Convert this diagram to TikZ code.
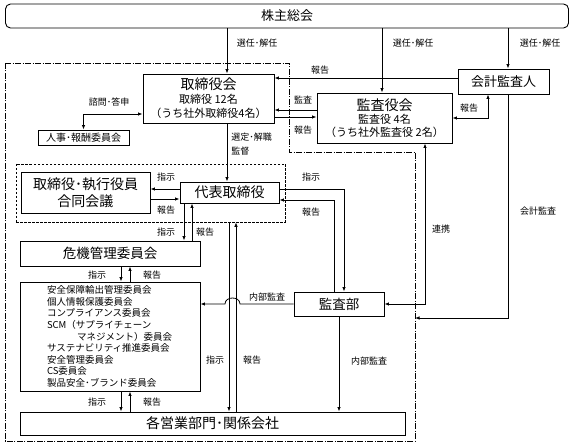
\documentclass[tikz,border=0pt]{standalone}
\usepackage{fontspec}
\setmainfont{Noto Sans CJK JP}
\usetikzlibrary{arrows.meta}

\tikzset{
  box/.style={draw, line width=0.9pt, inner sep=0pt, align=center},
  lbl/.style={font=\fontsize{9}{10}\selectfont, inner sep=0pt},
}

\begin{document}
\begin{tikzpicture}[x=1pt,y=-1pt,line width=0.8pt,>={Latex[length=4.5pt,width=3.5pt]}]
\useasboundingbox (0,0) rectangle (573,446);

% group frames
\draw[dash pattern=on 6pt off 1.5pt on 1pt off 1.5pt] (5,63) -- (289,63) -- (289,152) -- (415,152) -- (415,441) -- (5,441) -- cycle;
\node[draw, dash pattern=on 2.5pt off 1.5pt, line width=0.7pt, minimum width=269, minimum height=58] (exec) at (150.5,193) {};

% boxes
\node[box, rounded corners=5pt, minimum width=563, minimum height=24, font=\fontsize{13}{13}\selectfont] (meeting) at (287,16) {株主総会};
\node[box, minimum width=131, minimum height=49, font=\fontsize{11}{14}\selectfont] (board) at (208.5,98.5)
  {{\fontsize{14}{14}\selectfont 取締役会}\\取締役 12名\\（うち社外取締役4名）};
\node[box, minimum width=135, minimum height=50, font=\fontsize{11}{13}\selectfont] (kansayaku) at (384.5,118)
  {{\fontsize{14}{14}\selectfont 監査役会}\\監査役 4名\\（うち社外監査役 2名）};
\node[box, minimum width=91, minimum height=25, font=\fontsize{13}{13}\selectfont] (auditor) at (503.5,81.5) {会計監査人};
\node[box, minimum width=91, minimum height=15, font=\fontsize{10}{10}\selectfont] (jinji) at (83.5,137.5) {人事･報酬委員会};
\node[box, minimum width=129, minimum height=41, font=\fontsize{14}{17}\selectfont] (joint) at (85.5,192.5) {取締役･執行役員\\合同会議};
\node[box, minimum width=99, minimum height=21, font=\fontsize{14}{14}\selectfont] (ceo) at (229.5,192.5) {代表取締役};
\node[box, minimum width=180, minimum height=25, font=\fontsize{13.5}{14}\selectfont] (crisis) at (110,253.5) {危機管理委員会};
\node[box, minimum width=180, minimum height=109, text width=126, align=left, font=\fontsize{9.5}{11.6}\selectfont] (list) at (110,336.5)
  {安全保障輸出管理委員会\\個人情報保護委員会\\コンプライアンス委員会\\SCM（サプライチェーン\\\hspace*{30pt}マネジメント）委員会\\サステナビリティ推進委員会\\安全管理委員会\\CS委員会\\製品安全･ブランド委員会};
\node[box, minimum width=385, minimum height=23, font=\fontsize{14}{14}\selectfont] (divisions) at (212.5,423.5) {各営業部門･関係会社};
\node[box, minimum width=90, minimum height=24, font=\fontsize{13.5}{14}\selectfont] (audit) at (339,304) {監査部};

% routing points
\coordinate (selX) at (227,0);
\coordinate (kanX) at (382,0);
\coordinate (accX) at (508,0);
\coordinate (repX) at (488,0);
\coordinate (repY) at (0,78);
\coordinate (audY) at (0,110);
\coordinate (rptY) at (0,117);
\coordinate (advY) at (0,114);
\coordinate (insY) at (0,189);
\coordinate (backY) at (0,199);
\coordinate (crA) at (184,0);
\coordinate (crB) at (192,0);
\coordinate (lsA) at (121,0);
\coordinate (lsB) at (130,0);
\coordinate (lgA) at (229,0);
\coordinate (lgB) at (236,0);
\coordinate (auA) at (344,0);
\coordinate (auB) at (334,0);
\coordinate (auY) at (0,200);
\coordinate (hopR) at (240,0);
\coordinate (hopL) at (225,0);
\coordinate (linkX) at (425,0);
\coordinate (extY) at (0,318);
\coordinate (grpE) at (415,0);

% connectors
\draw[->] (meeting.south -| selX) -- (board.north -| selX);
\draw[->] (meeting.south -| kanX) -- (kansayaku.north -| kanX);
\draw[->] (meeting.south -| accX) -- (auditor.north -| accX);
\draw[->] (auditor.west |- repY) -- (board.east |- repY);
\draw[->] (kansayaku.west |- audY) -- (board.east |- audY);
\draw[->] (board.east |- rptY) -- (kansayaku.west |- rptY);
\draw[<->] (kansayaku.east) -| (auditor.south -| repX);
\draw[<->] (board.west |- advY) -| (jinji.north);
\draw[->] (board.south -| selX) -- (ceo.north -| selX);
\draw[->] (ceo.west |- insY) -- (joint.east |- insY);
\draw[->] (joint.east |- backY) -- (ceo.west |- backY);
\draw[->] (ceo.south -| crA) -- (crisis.north -| crA);
\draw[->] (crisis.north -| crB) -- (ceo.south -| crB);
\draw[->] (crisis.south -| lsA) -- (list.north -| lsA);
\draw[->] (list.north -| lsB) -- (crisis.south -| lsB);
\draw[->] (list.south -| lsA) -- (divisions.north -| lsA);
\draw[->] (divisions.north -| lsB) -- (list.south -| lsB);
\draw[->] (exec.south -| lgA) -- (divisions.north -| lgA);
\draw[->] (divisions.north -| lgB) -- (exec.south -| lgB);
\draw[->] (ceo.east |- insY) -| (audit.north -| auA);
\draw[->] (audit.north -| auB) |- (ceo.east |- auY);
\draw[->] (audit.west) -- (hopR |- audit.west) .. controls +(0,-8) and +(0,-8) .. (hopL |- audit.west) -- (list.east |- audit.west);
\draw[->] (audit.south) -- (divisions.north -| audit.south);
\draw[<->] (kansayaku.south -| linkX) |- (audit.east);
\draw[->] (auditor.south -| accX) |- (grpE |- extY);

% labels
\node[lbl] (l1) at (257,43) {選任･解任};
\node[lbl] (l2) at (413,43) {選任･解任};
\node[lbl] (l3) at (540,43) {選任･解任};
\node[lbl] (l4) at (320,70) {報告};
\node[lbl] (l5) at (303,100) {監査};
\node[lbl] (l6) at (303,130) {報告};
\node[lbl] (l7) at (469,108) {報告};
\node[lbl] (l8) at (109,102) {諮問･答申};
\node[lbl, anchor=west, align=left, font=\fontsize{9}{14}\selectfont] (l9) at (231,144) {選定･解職\\監督};
\node[lbl] (l10) at (166,177) {指示};
\node[lbl] (l11) at (166,210) {報告};
\node[lbl] (l12) at (166,232) {指示};
\node[lbl] (l13) at (205,232) {報告};
\node[lbl] (l14) at (97,275) {指示};
\node[lbl] (l15) at (152,275) {報告};
\node[lbl] (l16) at (97,402) {指示};
\node[lbl] (l17) at (152,402) {報告};
\node[lbl] (l18) at (215,360) {指示};
\node[lbl] (l19) at (252,360) {報告};
\node[lbl] (l20) at (311,177) {指示};
\node[lbl] (l21) at (311,212) {報告};
\node[lbl] (l22) at (267,297) {内部監査};
\node[lbl] (l23) at (369,361) {内部監査};
\node[lbl] (l24) at (441,229) {連携};
\node[lbl] (l25) at (538,211) {会計監査};

\end{tikzpicture}
\end{document}
